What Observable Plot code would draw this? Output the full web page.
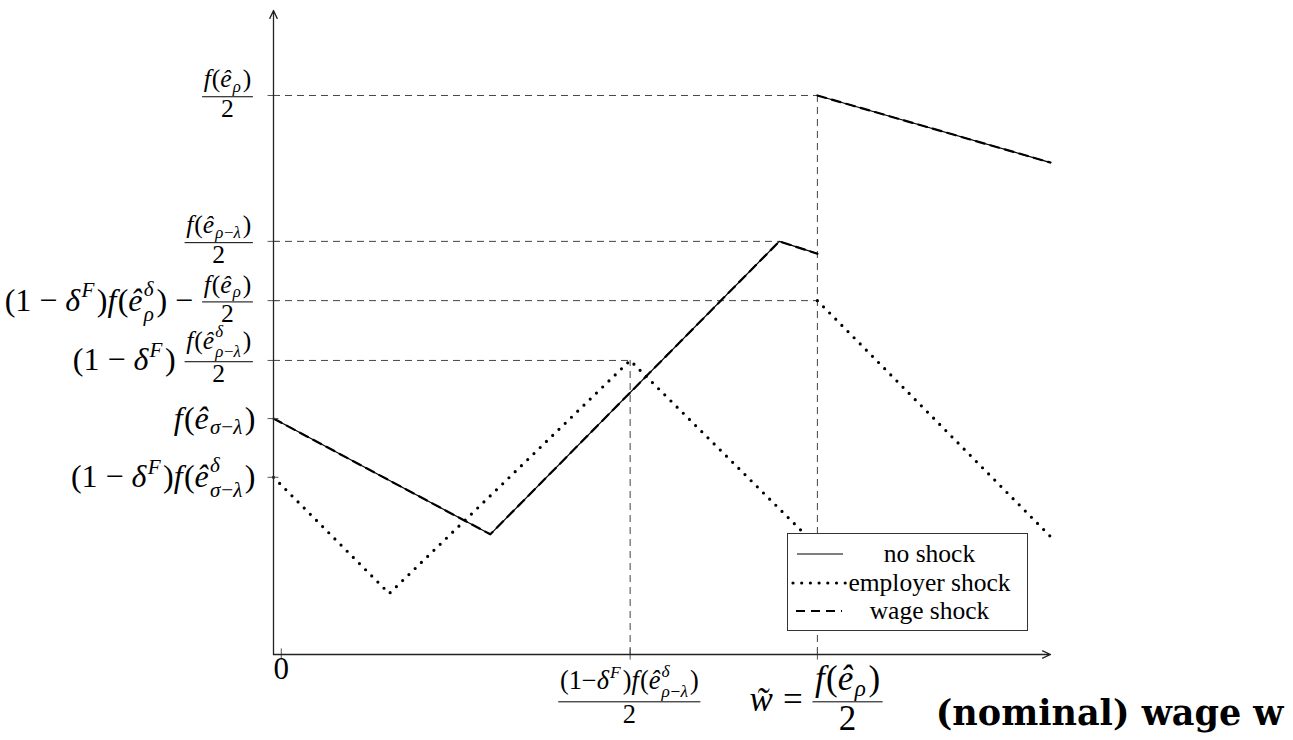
<!DOCTYPE html>
<html><head><meta charset="utf-8">
<script src="https://cdn.jsdelivr.net/npm/d3@7"></script>
<script src="https://cdn.jsdelivr.net/npm/@observablehq/plot@0.6"></script>
<style>
body{margin:0;background:#fff;}
#wrap{position:relative;width:1293px;height:740px;overflow:hidden;}
#legend{position:absolute;left:787px;top:533px;width:241px;height:98px;box-sizing:border-box;border:1.3px solid #333;background:#fff;font-family:"Liberation Serif";font-size:25.5px;}
#legend .row{position:absolute;left:0;width:100%;height:28px;}
#legend .row svg{position:absolute;left:0;top:0;}
#legend .row span{position:absolute;left:52px;right:8px;top:0;line-height:28px;text-align:center;white-space:nowrap;}
</style></head><body><div id="wrap"></div>
<script>
// ---- data ----
const noShockW = [0, 2.79, 6.51, 7.0, 7.0, 10];
const noShockV = [4.22, 2.15, 7.39, 7.17, 10.0, 8.80];
const noShockPart = [1, 1, 1, 1, 2, 2];
const employerW = [0, 1.49, 4.59, 7.0, 7.0, 10];
const employerV = [3.17, 1.09, 5.26, 1.93, 6.33, 2.11];
const employerPart = [1, 1, 1, 1, 2, 2];
const wageShockW = [0, 2.79, 6.51, 7.0, 7.0, 10];
const wageShockV = [4.22, 2.15, 7.39, 7.17, 10.0, 8.80];
const wageShockPart = [1, 1, 1, 1, 2, 2];

const guideH = [10.0, 7.39, 6.33, 5.26];
const guideHEnd = [7.0, 6.51, 7.0, 4.59];
const guideV = [4.59, 7.0];
const guideVTop = [5.26, 10.0];

const yTicks = [10.0, 7.39, 6.33, 5.26, 4.22, 3.17];
const yTickLabels = [
  "\\frac{f(ê_ρ)}{2}",
  "\\frac{f(ê_{ρ−λ})}{2}",
  "(1 − δ^F)f(ê^δ_ρ) − \\frac{f(ê_ρ)}{2}",
  "(1 − δ^F) \\frac{f(ê^δ_{ρ−λ})}{2}",
  "f(ê_{σ−λ})",
  "(1 − δ^F)f(ê^δ_{σ−λ})"
];
const xTicks = [0.1, 4.59, 7.0];
const xTickLabels = [
  "0",
  "\\frac{(1−δ^F)f(ê^δ_{ρ−λ})}{2}",
  "w\u0303 = \\dfrac{f(ê_ρ)}{2}"
];
const xMax = 10, yMax = 11.52;
const xTitle = "(nominal) wage w";
const legendLabels = ["no shock", "employer shock", "wage shock"];

const rows = (W, V, P) => W.map((w, i) => ({w, v: V[i], part: P[i]}));
const noShock = rows(noShockW, noShockV, noShockPart);
const employer = rows(employerW, employerV, employerPart);
const wageShock = rows(wageShockW, wageShockV, wageShockPart);

const solidStyle = {stroke: "#000", strokeWidth: 1.2};
const dottedStyle = {stroke: "#000", strokeWidth: 3.2, strokeDasharray: "0,8.7", strokeLinecap: "round"};
const dashedStyle = {stroke: "#000", strokeWidth: 2.2, strokeDasharray: "9,6"};
const guideStyle = {stroke: "#444", strokeWidth: 1, strokeDasharray: "7,5"};

const plot = Plot.plot({
  width: 1293, height: 740,
  marginLeft: 273, marginRight: 243, marginTop: 10, marginBottom: 86,
  x: {domain: [0, xMax], axis: null},
  y: {domain: [0, yMax], axis: null},
  style: {fontFamily: "Liberation Serif", background: "#fff", overflow: "visible"},
  marks: [
    Plot.ruleY(guideH.map((v, i) => ({v, e: guideHEnd[i]})), {y: "v", x1: 0, x2: "e", ...guideStyle}),
    Plot.ruleX(guideV.map((v, i) => ({v, t: guideVTop[i]})), {x: "v", y1: 0, y2: "t", ...guideStyle}),
    Plot.line(noShock, {x: "w", y: "v", z: "part", ...solidStyle}),
    Plot.line(employer, {x: "w", y: "v", z: "part", ...dottedStyle}),
    Plot.line(wageShock, {x: "w", y: "v", z: "part", ...dashedStyle}),
    Plot.ruleY(yTicks, {y: d => d, x1: -0.07, x2: 0.07, stroke: "#555", strokeWidth: 1}),
    Plot.ruleX(xTicks, {x: d => d, y1: -0.1, y2: 0.1, stroke: "#555", strokeWidth: 1}),
    Plot.arrow([{x1: 0, y1: 0, x2: xMax, y2: 0}, {x1: 0, y1: 0, x2: 0, y2: yMax}],
      {x1: "x1", y1: "y1", x2: "x2", y2: "y2", stroke: "#222", strokeWidth: 1.3, headLength: 10, headAngle: 50}),
    Plot.text(yTicks, {x: 0, y: d => d, text: (d, i) => yTickLabels[i], dx: -18}),
    Plot.text(xTicks, {x: d => d, y: 0, text: (d, i) => xTickLabels[i]}),
    Plot.text([xTitle], {frameAnchor: "bottom-right", text: d => d, dx: 233, dy: 59,
      textAnchor: "end", lineAnchor: "middle", fontFamily: "DejaVu Serif", fontWeight: "bold", fontSize: 35, fill: "#000"})
  ]
});
const wrap = document.getElementById("wrap");
wrap.appendChild(plot);

// ---- tiny math typesetter for tick labels (real SVG text) ----
const NS = "http://www.w3.org/2000/svg";
function mk(tag, attrs, parent) {
  const e = document.createElementNS(NS, tag);
  for (const k in attrs) e.setAttribute(k, attrs[k]);
  parent.appendChild(e);
  return e;
}
function readGroup(s, i) {
  if (s[i] === "{") {
    let depth = 1, j = i + 1;
    while (j < s.length && depth > 0) { if (s[j] === "{") depth++; else if (s[j] === "}") depth--; j++; }
    return [s.slice(i + 1, j - 1), j];
  }
  return [s[i], i + 1];
}
function parse(s) {
  const atoms = []; let buf = "", i = 0;
  const flush = () => { if (buf) { atoms.push({t: "text", s: buf}); buf = ""; } };
  while (i < s.length) {
    const c = s[i];
    if (s.startsWith("\\frac", i) || s.startsWith("\\dfrac", i)) {
      flush();
      const disp = s.startsWith("\\dfrac", i);
      const [n, j] = readGroup(s, i + (disp ? 6 : 5));
      const [d, k] = readGroup(s, j);
      atoms.push({t: "frac", num: n, den: d, disp}); i = k;
    } else if (c === "^" || c === "_") {
      flush();
      const [g, j] = readGroup(s, i + 1);
      let last = atoms[atoms.length - 1];
      if (!last || last.t !== "script") { last = {t: "script"}; atoms.push(last); }
      last[c === "^" ? "sup" : "sub"] = g; i = j;
    } else { buf += c; i++; }
  }
  flush();
  return atoms;
}
const isItalic = ch => /[A-Za-zα-ωê]/.test(ch);
function runText(parent, str, size, x, y) {
  const runs = [];
  for (const ch of str) {
    const it = ch === "\u0303" ? (runs.length ? runs[runs.length - 1].it : true) : isItalic(ch);
    if (runs.length && runs[runs.length - 1].it === it) runs[runs.length - 1].s += ch;
    else runs.push({it, s: ch});
  }
  let w = 0;
  for (const r of runs) {
    const t = mk("text", {x: x + w, y, "font-size": size, "font-family": "Liberation Serif", "text-anchor": "start",
      "font-style": r.it ? "italic" : "normal", fill: "#000", style: "white-space:pre"}, parent);
    t.textContent = r.s;
    w += t.getComputedTextLength();
    if (r.it) w += size * 0.04;
  }
  return w;
}
function typeset(parent, s, size, x, y, fracK) {
  let w = 0;
  for (const a of parse(s)) {
    if (a.t === "text") w += runText(parent, a.s, size, x + w, y);
    else if (a.t === "script") {
      const ss = size * 0.66; let ws = 0, wb = 0;
      const both = a.sup && a.sub;
      if (a.sup) ws = typeset(parent, a.sup, ss, x + w, y - size * (both ? 0.46 : 0.42), fracK);
      if (a.sub) wb = typeset(parent, a.sub, ss, x + w, y + size * (both ? 0.32 : 0.18), fracK);
      w += Math.max(ws, wb) + size * 0.05;
    } else {
      const fs = size * (a.disp ? 1 : fracK);
      const gn = mk("g", {}, parent), gd = mk("g", {}, parent);
      const wn = typeset(gn, a.num, fs, 0, 0, fracK), wd = typeset(gd, a.den, fs, 0, 0, fracK);
      const W = Math.max(wn, wd) + fs * 0.2;
      const bar = y - size * 0.27;
      // numerator: keep its lowest glyph box clear of the bar
      const nb = gn.getBBox();
      const numBase = Math.min(bar - fs * 0.33, bar - 1.5 - (nb.y + nb.height - fs * 0.03));
      gn.setAttribute("transform", `translate(${x + w + (W - wn) / 2},${numBase})`);
      gd.setAttribute("transform", `translate(${x + w + (W - wd) / 2},${bar + fs * 0.8})`);
      mk("line", {x1: x + w + 1, x2: x + w + W - 1, y1: bar, y2: bar, stroke: "#000", "stroke-width": 1}, parent);
      w += W + size * 0.05;
    }
  }
  return w;
}
const B = 32;
const xLabelSize = {"0": 31, frac: 33, dfrac: 35};
for (const el of Array.from(plot.querySelectorAll("text"))) {
  const s = el.textContent;
  const kind = yTickLabels.includes(s) ? "y" : xTickLabels.includes(s) ? "x" : null;
  if (!kind) continue;
  const m = el.getCTM();
  const ax = m.e + (parseFloat(el.getAttribute("x")) || 0);
  const ay = m.f + (parseFloat(el.getAttribute("y")) || 0);
  const g = mk("g", {"text-anchor": "start"}, plot);
  if (kind === "y") {
    const w = typeset(g, s, B, 0, 0, 0.8);
    g.setAttribute("transform", `translate(${ax - w},${ay + 0.3 * B})`);
  } else {
    const hasFrac = s.includes("frac");
    const size = s.includes("dfrac") ? xLabelSize.dfrac : hasFrac ? xLabelSize.frac : xLabelSize["0"];
    const w = typeset(g, s, size, 0, 0, 0.8);
    const base = hasFrac ? ay + 47 + 0.27 * size : ay + 24;
    g.setAttribute("transform", `translate(${ax - w / 2},${base})`);
  }
  el.remove();
}

// ---- legend ----
const legend = document.createElement("div");
legend.id = "legend";
const samples = [
  {x1: 9, x2: 55, ...solidStyle},
  {x1: 5, x2: 58, ...dottedStyle},
  {x1: 8, x2: 54, ...dashedStyle}
];
legendLabels.forEach((lab, i) => {
  const row = document.createElement("div");
  row.className = "row";
  row.style.top = (6 + i * 28.5) + "px";
  const s = samples[i];
  row.innerHTML = `<svg width="60" height="28"><line x1="${s.x1}" x2="${s.x2}" y1="14" y2="14" stroke="#000" stroke-width="${s.strokeWidth}" ${s.strokeDasharray ? `stroke-dasharray="${s.strokeDasharray}"` : ""} ${s.strokeLinecap ? `stroke-linecap="${s.strokeLinecap}"` : ""}/></svg><span>${lab}</span>`;
  legend.appendChild(row);
});
wrap.appendChild(legend);
</script>
</body></html>
